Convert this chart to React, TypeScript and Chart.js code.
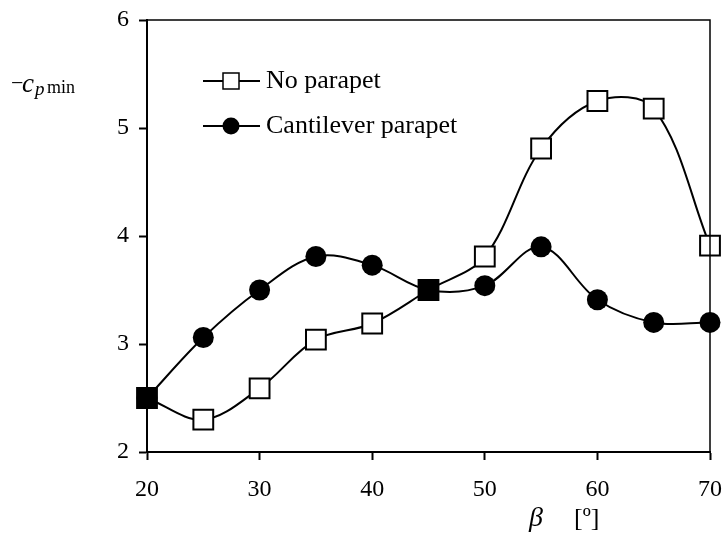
import React, { useEffect, useRef } from "react";
import { Chart, registerables } from "chart.js";

Chart.register(...registerables);

const betaValues = [20, 25, 30, 35, 40, 45, 50, 55, 60, 65, 70];
const noParapet = [2.5, 2.3, 2.59, 3.04, 3.19, 3.5, 3.81, 4.81, 5.25, 5.18, 3.91];
const cantilever = [2.5, 3.06, 3.5, 3.81, 3.73, 3.5, 3.54, 3.9, 3.41, 3.2, 3.2];
const seriesNames = ["No parapet", "Cantilever parapet"];
const xTicks = [20, 30, 40, 50, 60, 70];
const yTicks = [2, 3, 4, 5, 6];

const FONT = "'Liberation Serif', 'Times New Roman', serif";

const decorPlugin = {
  id: "decor",
  afterDraw(chart: any) {
    const ctx = chart.ctx;
    const a = chart.chartArea;
    ctx.save();
    // frame top & right
    ctx.strokeStyle = "#000";
    ctx.lineWidth = 1.5;
    ctx.beginPath();
    ctx.moveTo(a.left, a.top);
    ctx.lineTo(a.right, a.top);
    ctx.lineTo(a.right, a.bottom);
    ctx.stroke();

    ctx.fillStyle = "#000";
    // y label: −c_p min
    ctx.textBaseline = "alphabetic";
    ctx.textAlign = "left";
    ctx.font = `22px ${FONT}`;
    ctx.fillText("\u2212", 11, 90);
    ctx.font = `italic 27px ${FONT}`;
    ctx.fillText("c", 22, 92);
    ctx.font = `italic 19px ${FONT}`;
    ctx.fillText("p", 35, 95);
    ctx.font = `18px ${FONT}`;
    ctx.fillText("min", 47, 93);

    // x title
    ctx.font = `italic 28px ${FONT}`;
    ctx.fillText("\u03B2", 529, 526);
    ctx.font = `26px ${FONT}`;
    ctx.fillText("[\u00BA]", 574, 526);

    // legend
    const rows = [
      { y: 81, kind: "rect", label: seriesNames[0] },
      { y: 126, kind: "circle", label: seriesNames[1] },
    ];
    rows.forEach((r) => {
      ctx.strokeStyle = "#000";
      ctx.lineWidth = 2;
      ctx.beginPath();
      ctx.moveTo(203, r.y);
      ctx.lineTo(260, r.y);
      ctx.stroke();
      if (r.kind === "rect") {
        ctx.fillStyle = "#fff";
        ctx.fillRect(223, r.y - 8, 16, 16);
        ctx.lineWidth = 1.5;
        ctx.strokeRect(223, r.y - 8, 16, 16);
      } else {
        ctx.fillStyle = "#000";
        ctx.beginPath();
        ctx.arc(231, r.y, 8.5, 0, Math.PI * 2);
        ctx.fill();
      }
      ctx.fillStyle = "#000";
      ctx.font = `26px ${FONT}`;
      ctx.textBaseline = "middle";
      ctx.fillText(r.label, 266, r.y);
    });
    ctx.restore();
  },
};

export default function App() {
  const ref = useRef<HTMLCanvasElement>(null);
  useEffect(() => {
    const squareFill = noParapet.map((v, i) => (v === cantilever[i] ? "#000" : "#fff"));
    const chart = new Chart(ref.current as HTMLCanvasElement, {
      type: "line",
      data: {
        datasets: [
          {
            label: seriesNames[0],
            data: betaValues.map((x, i) => ({ x, y: noParapet[i] })),
            borderColor: "#000",
            borderWidth: 2,
            tension: 0.35,
            pointStyle: "rect",
            pointRadius: 14,
            pointBorderWidth: 2,
            pointBorderColor: "#000",
            pointBackgroundColor: squareFill,
            clip: false,
            order: 1,
          },
          {
            label: seriesNames[1],
            data: betaValues.map((x, i) => ({ x, y: cantilever[i] })),
            borderColor: "#000",
            borderWidth: 2,
            tension: 0.35,
            pointStyle: "circle",
            pointRadius: 10.5,
            pointBorderWidth: 0,
            pointBackgroundColor: "#000",
            clip: false,
            order: 0,
          },
        ],
      },
      options: {
        animation: false,
        responsive: false,
        devicePixelRatio: 1,
        layout: { padding: { left: 0, top: 20, right: 15, bottom: 26 } },
        plugins: { legend: { display: false }, tooltip: { enabled: false } },
        scales: {
          x: {
            type: "linear",
            min: 20,
            max: 70,
            afterBuildTicks: (s: any) => {
              s.ticks = xTicks.map((v) => ({ value: v }));
            },
            afterFit: (s: any) => {
              s.height = 60;
              s.paddingLeft = 0;
              s.paddingRight = 0;
            },
            grid: {
              display: true,
              drawOnChartArea: false,
              drawTicks: true,
              tickLength: 8,
              tickWidth: 2,
              tickColor: "#000",
            },
            border: { display: true, color: "#000", width: 2 },
            ticks: {
              color: "#000",
              font: { family: FONT, size: 24 },
              padding: 15,
              maxRotation: 0,
            },
          },
          y: {
            type: "linear",
            min: 2,
            max: 6,
            afterBuildTicks: (s: any) => {
              s.ticks = yTicks.map((v) => ({ value: v }));
            },
            afterFit: (s: any) => {
              s.width = 147;
              s.paddingTop = 0;
              s.paddingBottom = 0;
            },
            grid: {
              display: true,
              drawOnChartArea: false,
              drawTicks: true,
              tickLength: 8,
              tickWidth: 2,
              tickColor: "#000",
            },
            border: { display: true, color: "#000", width: 2 },
            ticks: {
              color: "#000",
              font: { family: FONT, size: 24 },
              padding: 10,
            },
          },
        },
      },
      plugins: [decorPlugin],
    });
    return () => chart.destroy();
  }, []);
  return (
    <div style={{ position: "absolute", left: 0, top: 0, width: 726, height: 538, background: "#fff" }}>
      <canvas ref={ref} width={726} height={538} style={{ width: 726, height: 538, display: "block" }} />
    </div>
  );
}
